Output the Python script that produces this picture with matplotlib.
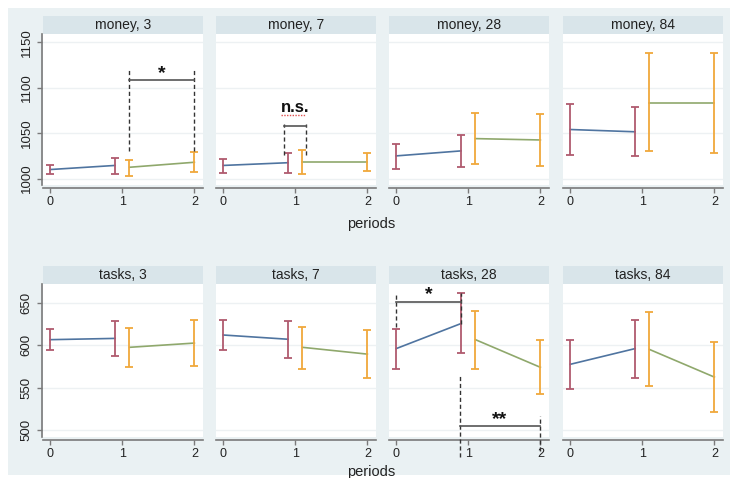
import matplotlib

matplotlib.use("Agg")
import matplotlib.pyplot as plt
from matplotlib.patches import Rectangle

plt.rcParams["font.family"] = ["Liberation Sans", "DejaVu Sans"]

# x positions of the two segments
periods_a = [0, 0.9]
periods_b = [1.1, 2]

panel_titles = [
    ["money, 3", "money, 7", "money, 28", "money, 84"],
    ["tasks, 3", "tasks, 7", "tasks, 28", "tasks, 84"],
]

# mean, lower, upper for the first segment (0 -> 1)
money_a_mean = [[1010, 1014.5], [1014.5, 1017.5], [1025, 1030.5], [1054, 1051.5]]
money_a_lo = [[1005, 1005], [1006.5, 1006.5], [1011, 1013], [1026.5, 1024.5]]
money_a_hi = [[1015, 1023], [1022, 1028], [1038, 1048], [1082, 1079]]
# second segment (1 -> 2)
money_b_mean = [[1012.5, 1018], [1018, 1018], [1044, 1042.5], [1083.5, 1083.5]]
money_b_lo = [[1003, 1007], [1005.5, 1008.5], [1016.5, 1014], [1030, 1028]]
money_b_hi = [[1021, 1029], [1032, 1028.5], [1072, 1071], [1138, 1138.5]]

tasks_a_mean = [[606.5, 608], [612, 607], [596, 625.5], [577.5, 596]]
tasks_a_lo = [[594, 587.5], [594.5, 585.5], [571.5, 591], [548, 561.5]]
tasks_a_hi = [[619, 628.5], [629.5, 628.5], [619.5, 661.5], [606.5, 630]]
tasks_b_mean = [[597.5, 602.5], [597.5, 589.5], [606.5, 574], [595, 562.5]]
tasks_b_lo = [[574.5, 575], [572, 561], [572.5, 542.5], [551.5, 521]]
tasks_b_hi = [[620, 629.5], [622, 618], [640.5, 606.5], [639, 603.5]]

money_ticks = [1000, 1050, 1100, 1150]
tasks_ticks = [500, 550, 600, 650]
period_ticks = [0, 1, 2]

# significance brackets: (row, col, x_left, x_right, y_bar,
#   left dashed (bottom, top), right dashed (bottom, top), label, label_y)
brackets = [
    (0, 0, 1.1, 2.0, 1108, (1030, 1121), (1030, 1121), "*", 1115),
    (0, 1, 0.85, 1.15, 1058, (1026, 1060), (1026, 1060), "n.s.", 1078),
    (1, 2, 0.0, 0.9, 651, (621, 662), (625, 662), "*", 659),
    (1, 2, 0.88, 2.0, 505, (468, 565), (476, 517), "**", 512),
]

BG = "#eaf1f3"
STRIP = "#d9e5ea"
BLUE = "#4f74a0"
GREEN = "#8fa86c"
MAROON = "#b05a6e"
ORANGE = "#f0a83c"
AXIS = "#7a7a7a"

W, H = 730, 478
fig = plt.figure(figsize=(W / 100, H / 100), dpi=100)
fig.patch.set_facecolor("white")
fig.patches.append(
    Rectangle((8 / W, 3 / H), 1 - 8 / W, 1 - 11 / H, transform=fig.transFigure,
              facecolor=BG, edgecolor="none", zorder=-10)
)

col_left = [43, 216, 389, 563]
panel_w = 160
row_top = [34, 284]
row_bottom = [185, 437]
strip_h = 18

data = [
    (money_a_mean, money_a_lo, money_a_hi, money_b_mean, money_b_lo, money_b_hi,
     money_ticks, (993, 1159)),
    (tasks_a_mean, tasks_a_lo, tasks_a_hi, tasks_b_mean, tasks_b_lo, tasks_b_hi,
     tasks_ticks, (492, 672)),
]

axes = {}
for r in range(2):
    a_mean, a_lo, a_hi, b_mean, b_lo, b_hi, yticks, ylim = data[r]
    for c in range(4):
        h = row_bottom[r] - row_top[r]
        ax = fig.add_axes([col_left[c] / W, 1 - row_bottom[r] / H, panel_w / W, h / H])
        axes[(r, c)] = ax
        ax.set_facecolor("white")
        ax.set_xlim(-0.1, 2.12)
        ax.set_ylim(*ylim)
        ax.set_yticks(yticks)
        ax.set_xticks(period_ticks)
        ax.grid(axis="y", color="#edf1f3", linewidth=1)
        ax.set_axisbelow(True)

        for side in ["top", "right"]:
            ax.spines[side].set_visible(False)
        ax.spines["bottom"].set_position(("outward", 2.5))
        ax.spines["bottom"].set_color(AXIS)
        ax.spines["bottom"].set_linewidth(1.2)
        ax.tick_params(axis="x", colors=AXIS, length=3.5, width=1, pad=2,
                       labelsize=9, labelcolor="#222222")
        if c == 0:
            ax.spines["left"].set_position(("outward", 1))
            ax.spines["left"].set_color(AXIS)
            ax.spines["left"].set_linewidth(1.2)
            ax.tick_params(axis="y", colors=AXIS, length=3.5, width=1, pad=3,
                           labelsize=9.5, labelcolor="#222222")
            for lab in ax.get_yticklabels():
                lab.set_rotation(90)
                lab.set_va("center")
        else:
            ax.spines["left"].set_visible(False)
            ax.tick_params(axis="y", left=False, labelleft=False)

        # first segment
        ax.plot(periods_a, a_mean[c], color=BLUE, linewidth=1.2, zorder=3)
        ax.errorbar(periods_a, a_mean[c],
                    yerr=[[m - lo for m, lo in zip(a_mean[c], a_lo[c])],
                          [hi - m for m, hi in zip(a_mean[c], a_hi[c])]],
                    fmt="none", ecolor=MAROON, elinewidth=1.3, capsize=3,
                    capthick=1.3, zorder=4)
        # second segment
        ax.plot(periods_b, b_mean[c], color=GREEN, linewidth=1.2, zorder=3)
        ax.errorbar(periods_b, b_mean[c],
                    yerr=[[m - lo for m, lo in zip(b_mean[c], b_lo[c])],
                          [hi - m for m, hi in zip(b_mean[c], b_hi[c])]],
                    fmt="none", ecolor=ORANGE, elinewidth=1.3, capsize=3,
                    capthick=1.3, zorder=4)

        # header strip
        strip = strip_h / h
        ax.add_patch(Rectangle((0, 1), 1, strip, transform=ax.transAxes,
                               facecolor=STRIP, edgecolor="none", clip_on=False))
        ax.text(0.5, 1 + strip / 2, panel_titles[r][c], transform=ax.transAxes,
                ha="center", va="center", fontsize=10, color="#222222")

for r, c, xl, xr, ybar, left_v, right_v, label, label_y in brackets:
    ax = axes[(r, c)]
    ax.plot([xl, xl], left_v, color="#333333", linestyle=(0, (3, 2)),
            linewidth=1, clip_on=False, zorder=5)
    ax.plot([xr, xr], right_v, color="#333333", linestyle=(0, (3, 2)),
            linewidth=1, clip_on=False, zorder=5)
    ax.plot([xl, xr], [ybar, ybar], color="#555555", linewidth=1.2,
            clip_on=False, zorder=5)
    ax.text((xl + xr) / 2, label_y, label, ha="center", va="center",
            fontsize=14 if label != "n.s." else 12, fontweight="bold",
            color="#111111", zorder=6)
    if label == "n.s.":
        ax.plot([0.8, 1.15], [label_y - 8.5, label_y - 8.5], color="#e05050",
                linestyle=(0, (1, 1)), linewidth=1, zorder=6)

fig.text(371 / W, 1 - 224 / H, "periods", ha="center", va="center",
         fontsize=10.5, color="#222222")
fig.text(371 / W, 1 - 472 / H, "periods", ha="center", va="center",
         fontsize=10.5, color="#222222")

fig.savefig("out.png", dpi=100)
